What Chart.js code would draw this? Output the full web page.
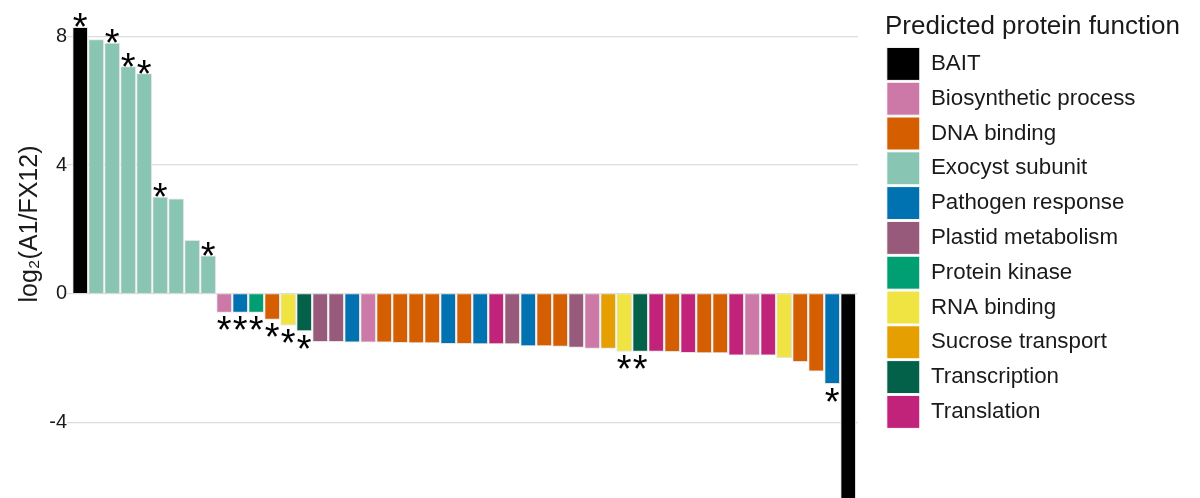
<!DOCTYPE html>
<html>
<head>
<meta charset="utf-8">
<script src="https://cdn.jsdelivr.net/npm/chart.js@4.4.1/dist/chart.umd.min.js"></script>
<style>
  html, body { margin: 0; padding: 0; background: #fff; }
  #wrap { width: 1200px; height: 498px; }
</style>
</head>
<body>
<div id="wrap"><canvas id="foldChart"></canvas></div>
<script>
const FONT = '"Liberation Sans", Arial, sans-serif';

const functions = ['BAIT', 'Biosynthetic process', 'DNA binding', 'Exocyst subunit', 'Pathogen response',
  'Plastid metabolism', 'Protein kinase', 'RNA binding', 'Sucrose transport', 'Transcription', 'Translation'];
const functionColors = ['#000000', '#CC79A7', '#D55E00', '#88C5B3', '#0072B2',
  '#975A7B', '#009E73', '#F0E442', '#E69F00', '#03614A', '#C1237A'];

// one entry per protein, sorted by enrichment
const barFunction = [
  'BAIT', 'Exocyst subunit', 'Exocyst subunit', 'Exocyst subunit', 'Exocyst subunit',
  'Exocyst subunit', 'Exocyst subunit', 'Exocyst subunit', 'Exocyst subunit',
  'Biosynthetic process', 'Pathogen response', 'Protein kinase', 'DNA binding', 'RNA binding',
  'Transcription', 'Plastid metabolism', 'Plastid metabolism', 'Pathogen response', 'Biosynthetic process',
  'DNA binding', 'DNA binding', 'DNA binding', 'DNA binding', 'Pathogen response',
  'DNA binding', 'Pathogen response', 'Translation', 'Plastid metabolism', 'Pathogen response',
  'DNA binding', 'DNA binding', 'Plastid metabolism', 'Biosynthetic process', 'Sucrose transport',
  'RNA binding', 'Transcription', 'Translation', 'DNA binding', 'Translation',
  'DNA binding', 'DNA binding', 'Translation', 'Biosynthetic process', 'Translation',
  'RNA binding', 'DNA binding', 'DNA binding', 'Pathogen response', 'BAIT'
];
const foldChange = [
  8.28, 7.90, 7.79, 7.06, 6.84, 3.00, 2.95, 1.66, 1.18,
  -0.58, -0.58, -0.58, -0.80, -0.98, -1.16, -1.49, -1.49, -1.51, -1.51,
  -1.51, -1.52, -1.53, -1.53, -1.55, -1.55, -1.56, -1.56, -1.56, -1.62,
  -1.62, -1.64, -1.67, -1.70, -1.70, -1.79, -1.79, -1.79, -1.80, -1.83,
  -1.84, -1.84, -1.91, -1.91, -1.91, -1.99, -2.11, -2.41, -2.80, -7.20
];
const significant = [
  true, false, true, true, true, true, false, false, true,
  true, true, true, true, true, true, false, false, false, false,
  false, false, false, false, false, false, false, false, false, false,
  false, false, false, false, false, true, true, false, false, false,
  false, false, false, false, false, false, false, false, true, false
];
const yTicks = [-4, 0, 4, 8];

// asterisks above / below the significant bars
const sigStars = {
  id: 'sigStars',
  afterDatasetsDraw(chart) {
    const ctx = chart.ctx;
    const bars = chart.getDatasetMeta(0).data;
    ctx.save();
    ctx.font = '38px ' + FONT;
    ctx.fillStyle = '#000';
    ctx.textAlign = 'center';
    ctx.textBaseline = 'alphabetic';
    significant.forEach((s, i) => {
      if (!s) return;
      const b = bars[i];
      ctx.fillText('*', b.x, foldChange[i] > 0 ? b.y + 13 : b.y + 31);
    });
    ctx.restore();
  }
};

// wider legend column so the title fits
const legendWidth = {
  id: 'legendWidth',
  beforeInit(chart) {
    const fit = chart.legend.fit;
    chart.legend.fit = function () {
      fit.call(this);
      this.width = 315;
    };
  }
};

new Chart(document.getElementById('foldChart'), {
  type: 'bar',
  data: {
    datasets: [{
      data: foldChange.map((v, i) => ({ x: i, y: v })),
      backgroundColor: barFunction.map(f => functionColors[functions.indexOf(f)]),
      borderColor: '#e4e4e4',
      borderWidth: 1,
      barThickness: 15,
      clip: false
    }]
  },
  options: {
    responsive: true,
    maintainAspectRatio: false,
    animation: false,
    layout: { padding: { top: 0, left: 0, right: 0, bottom: 50 } },
    scales: {
      x: {
        type: 'linear',
        min: -0.6,
        max: barFunction.length - 0.4,
        offset: false,
        bounds: 'data',
        grid: { offset: false },
        display: false
      },
      y: {
        min: -4.796,
        max: 9.13,
        afterBuildTicks: s => { s.ticks = yTicks.map(v => ({ value: v })); },
        afterFit: s => { s.width = 70.6; },
        border: { display: false },
        grid: { color: '#dcdcdc', lineWidth: 1.3, tickLength: 3.5 },
        ticks: { padding: 0, color: '#1a1a1a', font: { family: FONT, size: 20, lineHeight: 0 } },
        title: {
          display: true,
          text: 'log₂(A1/FX12)',
          color: '#1a1a1a',
          font: { family: FONT, size: 25 },
          padding: { top: 15, bottom: 0 }
        }
      },
      gap: {
        type: 'linear',
        position: 'right',
        grid: { display: false },
        border: { display: false },
        ticks: { display: false },
        afterFit: s => { s.width = 27.2; }
      }
    },
    plugins: {
      tooltip: { enabled: false },
      legend: {
        position: 'right',
        align: 'start',
        title: {
          display: true,
          text: 'Predicted protein function',
          position: 'start',
          color: '#1a1a1a',
          font: { family: FONT, size: 26 },
          padding: { top: 13.6, bottom: 0.8 }
        },
        labels: {
          boxWidth: 33,
          boxHeight: 33,
          padding: 1.8,
          color: '#1a1a1a',
          font: { family: FONT, size: 22.3 },
          generateLabels: () => functions.map((f, i) => ({
            text: f,
            fillStyle: functionColors[i],
            strokeStyle: '#ffffff',
            lineWidth: 1,
            hidden: false,
            index: i
          }))
        }
      }
    }
  },
  plugins: [sigStars, legendWidth]
});
</script>
</body>
</html>
